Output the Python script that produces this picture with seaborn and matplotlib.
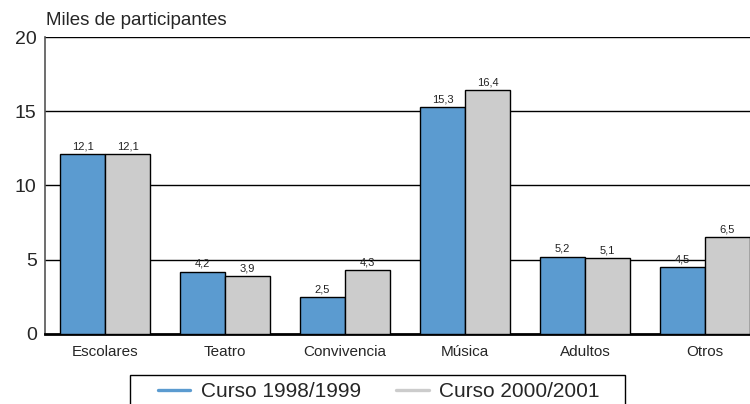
import matplotlib
matplotlib.use("Agg")
import matplotlib.pyplot as plt
from matplotlib.lines import Line2D
from matplotlib.patches import Rectangle
import seaborn as sns
import pandas as pd

categories = ["Escolares", "Teatro", "Convivencia", "Música", "Adultos", "Otros"]
series_names = ["Curso 1998/1999", "Curso 2000/2001"]
values_1998 = [12.1, 4.2, 2.5, 15.3, 5.2, 4.5]
values_2000 = [12.1, 3.9, 4.3, 16.4, 5.1, 6.5]
yticks = [0, 5, 10, 15, 20]
colors = ["#5b9bd0", "#cccccc"]

df = pd.DataFrame({
    "cat": categories * 2,
    "serie": [series_names[0]] * len(categories) + [series_names[1]] * len(categories),
    "val": values_1998 + values_2000,
})

sns.set_style("white")
plt.rcParams["font.family"] = ["Liberation Sans", "DejaVu Sans"]

fig = plt.figure(figsize=(7.5, 4.04), dpi=100)
ax = fig.add_axes([0.06, 0.1733, 0.94, 0.7351])

sns.barplot(data=df, x="cat", y="val", hue="serie", order=categories,
            hue_order=series_names, palette=colors, width=0.75,
            edgecolor="black", linewidth=1, saturation=1, ax=ax, legend=False, zorder=3)

for cont in ax.containers:
    ax.bar_label(cont, labels=[f"{v:.1f}".replace(".", ",") for v in cont.datavalues],
                 padding=2, fontsize=8, color="#222222")

ax.set_ylim(0, 20)
ax.set_xlim(-0.5, 5.375)
ax.set_yticks(yticks)
ax.set_yticklabels([str(t) for t in yticks], fontsize=14)
for t in yticks[1:]:
    ax.axhline(t, color="black", lw=1.0, zorder=1)
ax.set_xlabel("")
ax.set_ylabel("")
ax.tick_params(axis="both", length=0, pad=6)
ax.tick_params(axis="x", pad=8)
for lbl in ax.get_xticklabels():
    lbl.set_fontsize(11)
for s in ["top", "right"]:
    ax.spines[s].set_visible(False)
ax.spines["left"].set_color("#555555")
ax.spines["left"].set_linewidth(1.2)
ax.spines["bottom"].set_color("black")
ax.spines["bottom"].set_linewidth(2)

fig.text(0.061, 0.95, "Miles de participantes", fontsize=13.5, ha="left", va="center")

handles = [Line2D([0], [0], color=c, lw=2.4) for c in colors]
leg = fig.legend(handles, series_names, loc="center left", bbox_to_anchor=(158 / 750, 0.03),
                 borderaxespad=0, borderpad=0, ncol=2, fontsize=15, frameon=False,
                 handlelength=1.55, handletextpad=0.5, columnspacing=1.7)
fig.patches.append(Rectangle((130 / 750, -0.05), 495 / 750, 29 / 404 + 0.05,
                             transform=fig.transFigure, fill=False,
                             edgecolor="black", linewidth=1))

fig.savefig("out.png", dpi=100)
